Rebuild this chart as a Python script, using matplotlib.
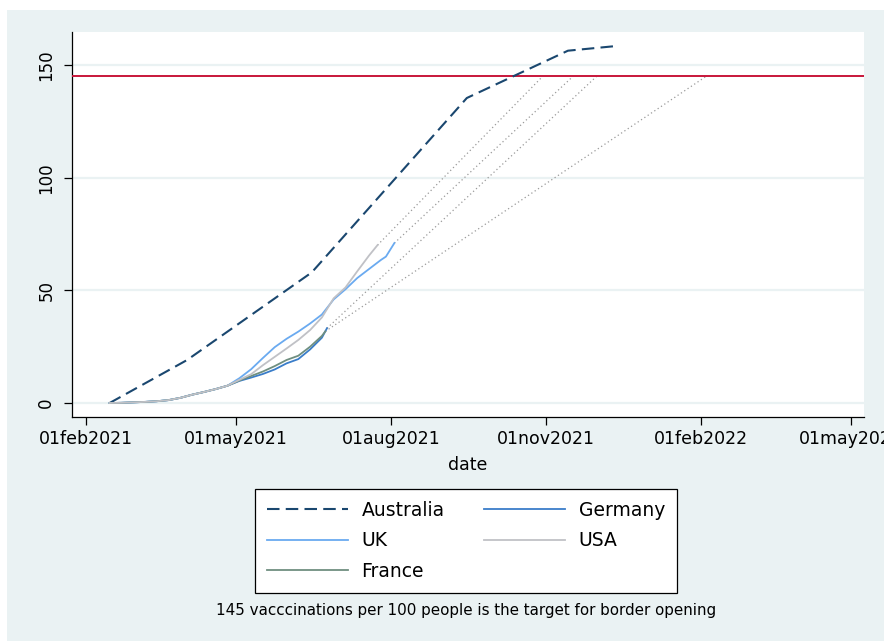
import numpy as np
import matplotlib
matplotlib.use("Agg")
import matplotlib.pyplot as plt
import matplotlib.dates as mdates
from matplotlib.patches import Rectangle

# doses per 100 people, weekly readings
common_dates = ["2021-02-15", "2021-02-22", "2021-03-01", "2021-03-08", "2021-03-15",
                "2021-03-22", "2021-03-29", "2021-04-05", "2021-04-12", "2021-04-19",
                "2021-04-26"]
common_vals = [0.0, 0.1, 0.3, 0.5, 0.8, 1.3, 2.3, 3.7, 4.9, 6.2, 7.7]

aus_dates = ["2021-02-15", "2021-04-02", "2021-06-15", "2021-09-15", "2021-11-14", "2021-12-13"]
aus_vals = [0.0, 19.1, 58.0, 135.4, 156.4, 158.5]

uk_dates = common_dates + ["2021-05-03", "2021-05-10", "2021-05-17", "2021-05-24", "2021-05-31",
                           "2021-06-07", "2021-06-14", "2021-06-21", "2021-06-28", "2021-07-05",
                           "2021-07-12", "2021-07-19", "2021-07-26", "2021-07-29", "2021-08-03"]
uk_vals = common_vals + [11.0, 15.0, 20.0, 24.8, 28.5, 31.7, 35.3, 39.3, 46.0, 50.5,
                         55.5, 59.5, 63.5, 65.0, 71.0]

usa_dates = common_dates + ["2021-05-03", "2021-05-10", "2021-05-17", "2021-05-24", "2021-05-31",
                            "2021-06-07", "2021-06-14", "2021-06-21", "2021-06-28", "2021-07-05",
                            "2021-07-12", "2021-07-19", "2021-07-24"]
usa_vals = common_vals + [10.3, 12.8, 16.8, 20.5, 24.2, 28.0, 32.4, 38.0, 46.5, 51.3,
                          58.5, 65.5, 70.1]

ger_dates = common_dates + ["2021-05-03", "2021-05-10", "2021-05-17", "2021-05-24", "2021-05-31",
                            "2021-06-07", "2021-06-14", "2021-06-21", "2021-06-24"]
ger_vals = common_vals + [9.8, 11.3, 12.9, 14.9, 17.6, 19.5, 23.8, 29.0, 33.2]

fra_dates = common_dates + ["2021-05-03", "2021-05-10", "2021-05-17", "2021-05-24", "2021-05-31",
                            "2021-06-07", "2021-06-14", "2021-06-21", "2021-06-23"]
fra_vals = common_vals + [10.0, 12.0, 14.0, 16.4, 19.1, 21.0, 25.0, 29.8, 31.8]

# projected date each country reaches the target at its current pace
target = 145
reach_dates = {"USA": "2021-10-30", "UK": "2021-11-17", "Germany": "2021-12-01", "France": "2022-02-04"}

xtick_dates = ["2021-02-01", "2021-05-01", "2021-08-01", "2021-11-01", "2022-02-01", "2022-05-01"]
xtick_labels = ["01feb2021", "01may2021", "01aug2021", "01nov2021", "01feb2022", "01may2022"]


def d(lst):
    return mdates.date2num(np.array(lst, dtype="datetime64[D]"))


W, H = 884, 641
fig = plt.figure(figsize=(W / 100, H / 100), dpi=100, facecolor="white")
fig.patches.append(Rectangle((7 / W, 0), 1, 1 - 10 / H, transform=fig.transFigure,
                             facecolor="#eaf2f3", edgecolor="none", zorder=-10))

ax = fig.add_axes([72 / W, 1 - 417 / H, (864 - 72) / W, (417 - 32) / H])
ax.set_facecolor("white")

series = {
    "UK": (uk_dates, uk_vals),
    "USA": (usa_dates, usa_vals),
    "Germany": (ger_dates, ger_vals),
    "France": (fra_dates, fra_vals),
}
for name, (dts, vals) in series.items():
    ax.plot([d([dts[-1]])[0], d([reach_dates[name]])[0]], [vals[-1], target],
            color="#9a9a9a", lw=0.9, linestyle=(0, (1, 2.2)), zorder=2)

ax.axhline(target, color="#c8163a", lw=1.4, zorder=3)

h_aus, = ax.plot(d(aus_dates), aus_vals, color="#1a476f", lw=1.5, linestyle=(0, (6, 3)), zorder=4)
h_ger, = ax.plot(d(ger_dates), ger_vals, color="#3a7dc9", lw=1.3, zorder=4)
h_fra, = ax.plot(d(fra_dates), fra_vals, color="#6f8f80", lw=1.3, zorder=5)
h_usa, = ax.plot(d(usa_dates), usa_vals, color="#c0c1c6", lw=1.3, zorder=5)
h_uk, = ax.plot(d(uk_dates), uk_vals, color="#6aaaf0", lw=1.3, zorder=4)

ax.set_xlim(d(["2021-01-24"])[0] - 0.3, d(["2022-05-08"])[0] + 0.7)
ax.set_ylim(-6.2, 164.7)

ax.set_yticks([0, 50, 100, 150])
ax.set_yticklabels(["0", "50", "100", "150"], rotation=90, va="center", fontsize=12)
ax.set_xticks(d(xtick_dates))
ax.set_xticklabels(xtick_labels, fontsize=12.5)
ax.tick_params(axis="both", length=6, width=0.9, color="black")
ax.tick_params(axis="y", pad=6)
ax.tick_params(axis="x", pad=3)
ax.grid(axis="y", color="#eaf2f3", lw=1.6, zorder=0)
ax.set_axisbelow(True)
for s in ["top", "right"]:
    ax.spines[s].set_visible(False)
for s in ["left", "bottom"]:
    ax.spines[s].set_linewidth(0.9)

ax.set_xlabel("date", fontsize=12.5, labelpad=6)

leg = fig.legend([h_aus, h_uk, h_fra, h_ger, h_usa],
                 ["Australia", "UK", "France", "Germany", "USA"],
                 ncol=2, loc="upper center", bbox_to_anchor=(466 / W, 1 - 489 / H),
                 fontsize=13.5, frameon=True, fancybox=False, edgecolor="black",
                 framealpha=1, handlelength=4.3, handletextpad=0.75, columnspacing=2.1,
                 labelspacing=0.62, borderpad=0.62, borderaxespad=0)
leg.get_frame().set_linewidth(0.9)

fig.text(466 / W, 1 - 611 / H, "145 vacccinations per 100 people is the target for border opening",
         ha="center", va="center", fontsize=10.9)

fig.savefig("out.png", dpi=100, facecolor="white")
